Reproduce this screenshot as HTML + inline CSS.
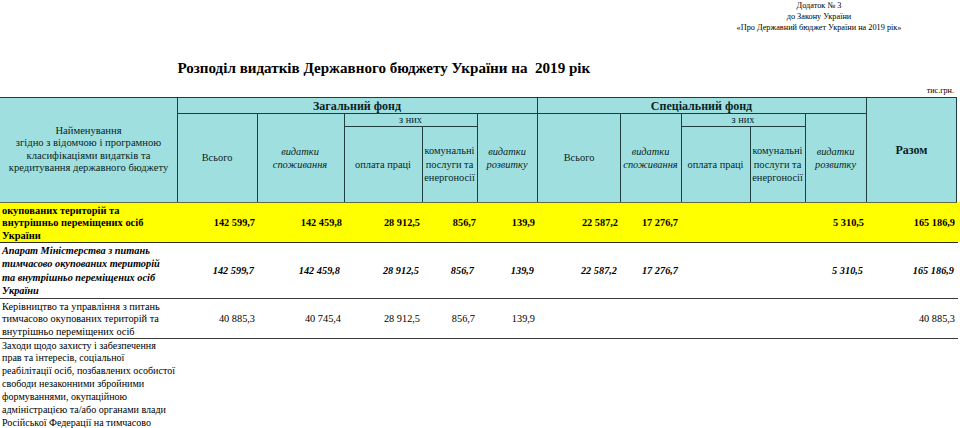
<!DOCTYPE html>
<html><head><meta charset="utf-8"><style>
html,body{margin:0;padding:0;background:#fff;}
body{width:960px;height:428px;position:relative;overflow:hidden;font-family:"Liberation Serif", serif;}
body>div{position:absolute;}
.t{white-space:pre;}
</style></head><body>
<div class="t" style="top:1.47px;font-size:8.25px;line-height:9.9px;font-weight:normal;font-style:normal;color:#000;left:519px;width:600px;text-align:center;">Додаток № 3</div>
<div class="t" style="top:12.27px;font-size:8.25px;line-height:9.9px;font-weight:normal;font-style:normal;color:#000;left:519px;width:600px;text-align:center;">до Закону України</div>
<div class="t" style="top:22.57px;font-size:8.25px;line-height:9.9px;font-weight:normal;font-style:normal;color:#000;left:519px;width:600px;text-align:center;">«Про Державний бюджет України на 2019 рік»</div>
<div class="t" style="top:58.96px;font-size:15.08px;line-height:18.1px;font-weight:bold;font-style:normal;color:#000;left:177.4px;">Розподіл видатків Державного бюджету України на&nbsp; 2019 рік</div>
<div class="t" style="top:86.26px;font-size:8.15px;line-height:9.78px;font-weight:normal;font-style:normal;color:#000;left:354px;width:600px;text-align:right;">тис.грн.</div>
<div style="left:0px;top:97px;width:957px;height:105px;background:#a0dfdf"></div>
<div style="left:0px;top:202px;width:960px;height:40px;background:#ffff00"></div>
<div style="left:0px;top:97px;width:957px;height:1px;background:#1f3f3f"></div>
<div style="left:177px;top:113px;width:689px;height:1px;background:#1f3f3f"></div>
<div style="left:344px;top:126px;width:133px;height:1px;background:#1f3f3f"></div>
<div style="left:681px;top:126px;width:124px;height:1px;background:#1f3f3f"></div>
<div style="left:0px;top:202px;width:957px;height:1px;background:#5e6d3c"></div>
<div style="left:177px;top:97px;width:1px;height:105px;background:#1f3f3f"></div>
<div style="left:257px;top:113px;width:1px;height:89px;background:#1f3f3f"></div>
<div style="left:344px;top:113px;width:1px;height:89px;background:#1f3f3f"></div>
<div style="left:422px;top:126px;width:1px;height:76px;background:#1f3f3f"></div>
<div style="left:477px;top:113px;width:1px;height:89px;background:#1f3f3f"></div>
<div style="left:537px;top:97px;width:1px;height:105px;background:#1f3f3f"></div>
<div style="left:620px;top:113px;width:1px;height:89px;background:#1f3f3f"></div>
<div style="left:681px;top:113px;width:1px;height:89px;background:#1f3f3f"></div>
<div style="left:750px;top:126px;width:1px;height:76px;background:#1f3f3f"></div>
<div style="left:805px;top:113px;width:1px;height:89px;background:#1f3f3f"></div>
<div style="left:866px;top:97px;width:1px;height:105px;background:#1f3f3f"></div>
<div style="left:956px;top:97px;width:1px;height:105px;background:#1f3f3f"></div>
<div style="left:0px;top:242px;width:958px;height:1px;background:#2e2e1a"></div>
<div style="left:0px;top:298px;width:958px;height:1px;background:#3a3a3a"></div>
<div style="left:0px;top:338px;width:958px;height:1px;background:#3a3a3a"></div>
<div class="t" style="top:124.56px;font-size:10.6px;line-height:12.72px;font-weight:normal;font-style:normal;color:#0a1f1f;left:-211.5px;width:600px;text-align:center;">Найменування</div>
<div class="t" style="top:137.06px;font-size:10.6px;line-height:12.72px;font-weight:normal;font-style:normal;color:#0a1f1f;left:-211.5px;width:600px;text-align:center;">згідно з відомчою і програмною</div>
<div class="t" style="top:149.56px;font-size:10.6px;line-height:12.72px;font-weight:normal;font-style:normal;color:#0a1f1f;left:-211.5px;width:600px;text-align:center;">класифікаціями видатків та</div>
<div class="t" style="top:162.06px;font-size:10.6px;line-height:12.72px;font-weight:normal;font-style:normal;color:#0a1f1f;left:-211.5px;width:600px;text-align:center;">кредитування державного бюджету</div>
<div class="t" style="top:98.95px;font-size:12px;line-height:14.4px;font-weight:bold;font-style:normal;color:#0a1f1f;left:57px;width:600px;text-align:center;">Загальний фонд</div>
<div class="t" style="top:98.95px;font-size:12px;line-height:14.4px;font-weight:bold;font-style:normal;color:#0a1f1f;left:401.5px;width:600px;text-align:center;">Спеціальний фонд</div>
<div class="t" style="top:114.15px;font-size:10.4px;line-height:12.48px;font-weight:normal;font-style:normal;color:#0a1f1f;left:110.5px;width:600px;text-align:center;">з них</div>
<div class="t" style="top:114.15px;font-size:10.4px;line-height:12.48px;font-weight:normal;font-style:normal;color:#0a1f1f;left:443px;width:600px;text-align:center;">з них</div>
<div class="t" style="top:152.25px;font-size:10.4px;line-height:12.48px;font-weight:normal;font-style:normal;color:#0a1f1f;left:-83px;width:600px;text-align:center;">Всього</div>
<div class="t" style="top:145.75px;font-size:10.4px;line-height:12.48px;font-weight:normal;font-style:italic;color:#0a1f1f;left:0px;width:600px;text-align:center;">видатки</div>
<div class="t" style="top:158.75px;font-size:10.4px;line-height:12.48px;font-weight:normal;font-style:italic;color:#0a1f1f;left:0px;width:600px;text-align:center;">споживання</div>
<div class="t" style="top:158.95px;font-size:10.4px;line-height:12.48px;font-weight:normal;font-style:normal;color:#0a1f1f;left:83px;width:600px;text-align:center;">оплата праці</div>
<div class="t" style="top:145.45px;font-size:10.4px;line-height:12.48px;font-weight:normal;font-style:normal;color:#0a1f1f;left:149.5px;width:600px;text-align:center;">комунальні</div>
<div class="t" style="top:158.65px;font-size:10.4px;line-height:12.48px;font-weight:normal;font-style:normal;color:#0a1f1f;left:149.5px;width:600px;text-align:center;">послуги та</div>
<div class="t" style="top:171.55px;font-size:10.4px;line-height:12.48px;font-weight:normal;font-style:normal;color:#0a1f1f;left:149.5px;width:600px;text-align:center;">енергоносії</div>
<div class="t" style="top:145.75px;font-size:10.4px;line-height:12.48px;font-weight:normal;font-style:italic;color:#0a1f1f;left:207px;width:600px;text-align:center;">видатки</div>
<div class="t" style="top:158.75px;font-size:10.4px;line-height:12.48px;font-weight:normal;font-style:italic;color:#0a1f1f;left:207px;width:600px;text-align:center;">розвитку</div>
<div class="t" style="top:152.25px;font-size:10.4px;line-height:12.48px;font-weight:normal;font-style:normal;color:#0a1f1f;left:279px;width:600px;text-align:center;">Всього</div>
<div class="t" style="top:145.75px;font-size:10.4px;line-height:12.48px;font-weight:normal;font-style:italic;color:#0a1f1f;left:350.5px;width:600px;text-align:center;">видатки</div>
<div class="t" style="top:158.75px;font-size:10.4px;line-height:12.48px;font-weight:normal;font-style:italic;color:#0a1f1f;left:350.5px;width:600px;text-align:center;">споживання</div>
<div class="t" style="top:158.95px;font-size:10.4px;line-height:12.48px;font-weight:normal;font-style:normal;color:#0a1f1f;left:415.5px;width:600px;text-align:center;">оплата праці</div>
<div class="t" style="top:145.45px;font-size:10.4px;line-height:12.48px;font-weight:normal;font-style:normal;color:#0a1f1f;left:477.5px;width:600px;text-align:center;">комунальні</div>
<div class="t" style="top:158.65px;font-size:10.4px;line-height:12.48px;font-weight:normal;font-style:normal;color:#0a1f1f;left:477.5px;width:600px;text-align:center;">послуги та</div>
<div class="t" style="top:171.55px;font-size:10.4px;line-height:12.48px;font-weight:normal;font-style:normal;color:#0a1f1f;left:477.5px;width:600px;text-align:center;">енергоносії</div>
<div class="t" style="top:145.75px;font-size:10.4px;line-height:12.48px;font-weight:normal;font-style:italic;color:#0a1f1f;left:535.5px;width:600px;text-align:center;">видатки</div>
<div class="t" style="top:158.75px;font-size:10.4px;line-height:12.48px;font-weight:normal;font-style:italic;color:#0a1f1f;left:535.5px;width:600px;text-align:center;">розвитку</div>
<div class="t" style="top:142.85px;font-size:12px;line-height:14.4px;font-weight:bold;font-style:normal;color:#0a1f1f;left:611.5px;width:600px;text-align:center;">Разом</div>
<div class="t" style="top:204.50px;font-size:10.45px;line-height:12.54px;font-weight:bold;font-style:normal;color:#000;left:2px;">окупованих територій та</div>
<div class="t" style="top:217.00px;font-size:10.45px;line-height:12.54px;font-weight:bold;font-style:normal;color:#000;left:2px;">внутрішньо переміщених осіб</div>
<div class="t" style="top:229.50px;font-size:10.45px;line-height:12.54px;font-weight:bold;font-style:normal;color:#000;left:2px;">України</div>
<div class="t" style="top:216.30px;font-size:11.2px;line-height:13.44px;font-weight:bold;font-style:normal;color:#000;transform:scaleX(0.92);transform-origin:right;left:-345px;width:600px;text-align:right;">142 599,7</div>
<div class="t" style="top:216.30px;font-size:11.2px;line-height:13.44px;font-weight:bold;font-style:normal;color:#000;transform:scaleX(0.92);transform-origin:right;left:-258.2px;width:600px;text-align:right;">142 459,8</div>
<div class="t" style="top:216.30px;font-size:11.2px;line-height:13.44px;font-weight:bold;font-style:normal;color:#000;transform:scaleX(0.92);transform-origin:right;left:-179.8px;width:600px;text-align:right;">28 912,5</div>
<div class="t" style="top:216.30px;font-size:11.2px;line-height:13.44px;font-weight:bold;font-style:normal;color:#000;transform:scaleX(0.92);transform-origin:right;left:-124.39999999999998px;width:600px;text-align:right;">856,7</div>
<div class="t" style="top:216.30px;font-size:11.2px;line-height:13.44px;font-weight:bold;font-style:normal;color:#000;transform:scaleX(0.92);transform-origin:right;left:-65px;width:600px;text-align:right;">139,9</div>
<div class="t" style="top:216.30px;font-size:11.2px;line-height:13.44px;font-weight:bold;font-style:normal;color:#000;transform:scaleX(0.92);transform-origin:right;left:18px;width:600px;text-align:right;">22 587,2</div>
<div class="t" style="top:216.30px;font-size:11.2px;line-height:13.44px;font-weight:bold;font-style:normal;color:#000;transform:scaleX(0.92);transform-origin:right;left:78.29999999999995px;width:600px;text-align:right;">17 276,7</div>
<div class="t" style="top:216.30px;font-size:11.2px;line-height:13.44px;font-weight:bold;font-style:normal;color:#000;transform:scaleX(0.92);transform-origin:right;left:263.70000000000005px;width:600px;text-align:right;">5 310,5</div>
<div class="t" style="top:216.30px;font-size:11.2px;line-height:13.44px;font-weight:bold;font-style:normal;color:#000;transform:scaleX(0.92);transform-origin:right;left:355px;width:600px;text-align:right;">165 186,9</div>
<div class="t" style="top:244.84px;font-size:10.3px;line-height:12.36px;font-weight:bold;font-style:italic;color:#000;left:2px;">Апарат Міністерства з питань</div>
<div class="t" style="top:258.34px;font-size:10.3px;line-height:12.36px;font-weight:bold;font-style:italic;color:#000;left:2px;">тимчасово окупованих територій</div>
<div class="t" style="top:271.84px;font-size:10.3px;line-height:12.36px;font-weight:bold;font-style:italic;color:#000;left:2px;">та внутрішньо переміщених осіб</div>
<div class="t" style="top:285.34px;font-size:10.3px;line-height:12.36px;font-weight:bold;font-style:italic;color:#000;left:2px;">України</div>
<div class="t" style="top:264.20px;font-size:11.2px;line-height:13.44px;font-weight:bold;font-style:italic;color:#000;transform:scaleX(0.92);transform-origin:right;left:-345.8px;width:600px;text-align:right;">142 599,7</div>
<div class="t" style="top:264.20px;font-size:11.2px;line-height:13.44px;font-weight:bold;font-style:italic;color:#000;transform:scaleX(0.92);transform-origin:right;left:-260.5px;width:600px;text-align:right;">142 459,8</div>
<div class="t" style="top:264.20px;font-size:11.2px;line-height:13.44px;font-weight:bold;font-style:italic;color:#000;transform:scaleX(0.92);transform-origin:right;left:-181.0px;width:600px;text-align:right;">28 912,5</div>
<div class="t" style="top:264.20px;font-size:11.2px;line-height:13.44px;font-weight:bold;font-style:italic;color:#000;transform:scaleX(0.92);transform-origin:right;left:-126.19999999999999px;width:600px;text-align:right;">856,7</div>
<div class="t" style="top:264.20px;font-size:11.2px;line-height:13.44px;font-weight:bold;font-style:italic;color:#000;transform:scaleX(0.92);transform-origin:right;left:-65.89999999999998px;width:600px;text-align:right;">139,9</div>
<div class="t" style="top:264.20px;font-size:11.2px;line-height:13.44px;font-weight:bold;font-style:italic;color:#000;transform:scaleX(0.92);transform-origin:right;left:16.799999999999955px;width:600px;text-align:right;">22 587,2</div>
<div class="t" style="top:264.20px;font-size:11.2px;line-height:13.44px;font-weight:bold;font-style:italic;color:#000;transform:scaleX(0.92);transform-origin:right;left:77.69999999999993px;width:600px;text-align:right;">17 276,7</div>
<div class="t" style="top:264.20px;font-size:11.2px;line-height:13.44px;font-weight:bold;font-style:italic;color:#000;transform:scaleX(0.92);transform-origin:right;left:263.0px;width:600px;text-align:right;">5 310,5</div>
<div class="t" style="top:264.20px;font-size:11.2px;line-height:13.44px;font-weight:bold;font-style:italic;color:#000;transform:scaleX(0.92);transform-origin:right;left:354.20000000000005px;width:600px;text-align:right;">165 186,9</div>
<div class="t" style="top:300.64px;font-size:10.3px;line-height:12.36px;font-weight:normal;font-style:normal;color:#000;left:2px;">Керівництво та управління з питань</div>
<div class="t" style="top:313.34px;font-size:10.3px;line-height:12.36px;font-weight:normal;font-style:normal;color:#000;left:2px;">тимчасово окупованих територій та</div>
<div class="t" style="top:325.94px;font-size:10.3px;line-height:12.36px;font-weight:normal;font-style:normal;color:#000;left:2px;">внутрішньо переміщених осіб</div>
<div class="t" style="top:311.60px;font-size:11.2px;line-height:13.44px;font-weight:normal;font-style:normal;color:#000;transform:scaleX(0.92);transform-origin:right;left:-345px;width:600px;text-align:right;">40 885,3</div>
<div class="t" style="top:311.60px;font-size:11.2px;line-height:13.44px;font-weight:normal;font-style:normal;color:#000;transform:scaleX(0.92);transform-origin:right;left:-259px;width:600px;text-align:right;">40 745,4</div>
<div class="t" style="top:311.60px;font-size:11.2px;line-height:13.44px;font-weight:normal;font-style:normal;color:#000;transform:scaleX(0.92);transform-origin:right;left:-179.8px;width:600px;text-align:right;">28 912,5</div>
<div class="t" style="top:311.60px;font-size:11.2px;line-height:13.44px;font-weight:normal;font-style:normal;color:#000;transform:scaleX(0.92);transform-origin:right;left:-125.39999999999998px;width:600px;text-align:right;">856,7</div>
<div class="t" style="top:311.60px;font-size:11.2px;line-height:13.44px;font-weight:normal;font-style:normal;color:#000;transform:scaleX(0.92);transform-origin:right;left:-65px;width:600px;text-align:right;">139,9</div>
<div class="t" style="top:311.60px;font-size:11.2px;line-height:13.44px;font-weight:normal;font-style:normal;color:#000;transform:scaleX(0.92);transform-origin:right;left:354.5px;width:600px;text-align:right;">40 885,3</div>
<div class="t" style="top:339.58px;font-size:10.05px;line-height:12.06px;font-weight:normal;font-style:normal;color:#000;left:2px;">Заходи щодо захисту і забезпечення</div>
<div class="t" style="top:352.48px;font-size:10.05px;line-height:12.06px;font-weight:normal;font-style:normal;color:#000;left:2px;">прав та інтересів, соціальної</div>
<div class="t" style="top:365.38px;font-size:10.05px;line-height:12.06px;font-weight:normal;font-style:normal;color:#000;left:2px;">реабілітації осіб, позбавлених особистої</div>
<div class="t" style="top:378.28px;font-size:10.05px;line-height:12.06px;font-weight:normal;font-style:normal;color:#000;left:2px;">свободи незаконними збройними</div>
<div class="t" style="top:391.18px;font-size:10.05px;line-height:12.06px;font-weight:normal;font-style:normal;color:#000;left:2px;">формуваннями, окупаційною</div>
<div class="t" style="top:404.08px;font-size:10.05px;line-height:12.06px;font-weight:normal;font-style:normal;color:#000;left:2px;">адміністрацією та/або органами влади</div>
<div class="t" style="top:416.98px;font-size:10.05px;line-height:12.06px;font-weight:normal;font-style:normal;color:#000;left:2px;">Російської Федерації на тимчасово</div>
</body></html>
